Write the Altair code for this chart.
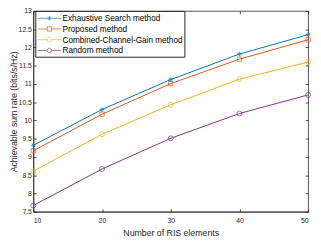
import altair as alt
import pandas as pd

ris_elements = [10, 20, 30, 40, 50]
series_names = [
    "Exhaustive Search method",
    "Proposed method",
    "Combined-Channel-Gain method",
    "Random method",
]
exhaustive = [9.32, 10.30, 11.12, 11.82, 12.35]
proposed = [9.17, 10.17, 11.01, 11.68, 12.21]
combined = [8.61, 9.62, 10.43, 11.13, 11.60]
random_m = [7.67, 8.67, 9.51, 10.19, 10.70]
y_ticks = [7.5, 8, 8.5, 9, 9.5, 10, 10.5, 11, 11.5, 12, 12.5, 13]

colors = ["#0072BD", "#D95319", "#EDB120", "#7E2F8E"]
asterisk = "M-1,0L1,0M0,-1L0,1M-0.7,-0.7L0.7,0.7M-0.7,0.7L0.7,-0.7"
marker_shapes = [asterisk, "square", "circle", "circle"]
marker_sizes = [22, 20, 26, 26]
# legend symbols: line segment with the marker in its middle
ring = "M1.85,0L1.79,0.22L1.62,0.39L1.4,0.45L1.18,0.39L1.01,0.22L0.95,0L1.01,-0.22L1.18,-0.39L1.4,-0.45L1.62,-0.39L1.79,-0.22Z"
legend_paths = [
    "M-1,0L3.8,0M1.4,-0.45L1.4,0.45M1.08,-0.32L1.72,0.32M1.08,0.32L1.72,-0.32",
    "M-1,0L0.95,0M1.85,0L3.8,0M0.95,-0.45L1.85,-0.45L1.85,0.45L0.95,0.45Z",
    "M-1,0L0.95,0M1.85,0L3.8,0" + ring,
    "M-1,0L0.95,0M1.85,0L3.8,0" + ring,
]

rows = []
for name, vals in zip(series_names, [exhaustive, proposed, combined, random_m]):
    for xv, yv in zip(ris_elements, vals):
        rows.append({"n": xv, "rate": yv, "series": name})
df = pd.DataFrame(rows)

W, H = 282, 206
FONT = "Liberation Sans"
AX = "#262626"

color_scale = alt.Scale(domain=series_names, range=colors)
x_enc = alt.X(
    "n:Q",
    scale=alt.Scale(domain=[10, 50], nice=False),
    axis=alt.Axis(
        values=ris_elements, title="Number of RIS elements", format="d",
        grid=True, gridDash=[3, H - 6, 3, 2000], gridColor=AX, gridOpacity=1, gridWidth=0.8,
        ticks=False, tickSize=0, labelPadding=5, titlePadding=5,
    ),
)
y_enc = alt.Y(
    "rate:Q",
    scale=alt.Scale(domain=[7.5, 13], nice=False),
    axis=alt.Axis(
        values=y_ticks, title="Achievable sum rate (bits/s/Hz)", format=".1~f",
        grid=True, gridDash=[3, W - 6, 3, 2000], gridColor=AX, gridOpacity=1, gridWidth=0.8,
        ticks=False, tickSize=0, labelPadding=2, titlePadding=0,
    ),
)

legend_def = alt.Legend(
    orient="none", legendX=2, legendY=0, title=None,
    labelFont=FONT, labelFontSize=8.4, labelColor="#000000",
    padding=2, rowPadding=1, symbolSize=100, labelOffset=15,
    symbolStrokeWidth=1, fillColor="#ffffff", strokeColor=AX,
)

lines = alt.Chart(df).mark_line(strokeWidth=1).encode(
    x=x_enc, y=y_enc,
    color=alt.Color("series:N", scale=color_scale, sort=series_names, legend=legend_def),
)

layers = [lines]
for name, shp, sz in zip(series_names, marker_shapes, marker_sizes):
    layers.append(
        alt.Chart(df).transform_filter(alt.datum.series == name)
        .mark_point(shape=shp, size=sz, filled=False, strokeWidth=1)
        .encode(x=x_enc, y=y_enc, color=alt.Color("series:N", scale=color_scale))
    )

legend_layer = alt.Chart(df).transform_filter("datum.rate < 0").mark_point(
    filled=False, strokeWidth=1, size=100
).encode(
    x=x_enc, y=y_enc,
    color=alt.Color("series:N", scale=color_scale),
    shape=alt.Shape("series:N", scale=alt.Scale(domain=series_names, range=legend_paths),
                    legend=legend_def),
)
layers.append(legend_layer)

chart = alt.layer(*layers).properties(
    width=W, height=H,
    padding={"left": 26, "top": 0, "right": 5, "bottom": 25},
    autosize=alt.AutoSizeParams(type="none"),
).configure_view(stroke=AX, strokeWidth=0.8).configure_axis(
    labelFont=FONT, labelFontSize=7, labelColor=AX,
    titleFont=FONT, titleFontSize=9, titleFontWeight="normal", titleColor=AX,
    domainColor=AX, domainWidth=0.8,
)

chart.save("out.html", embed_options={"renderer": "svg", "actions": False})
